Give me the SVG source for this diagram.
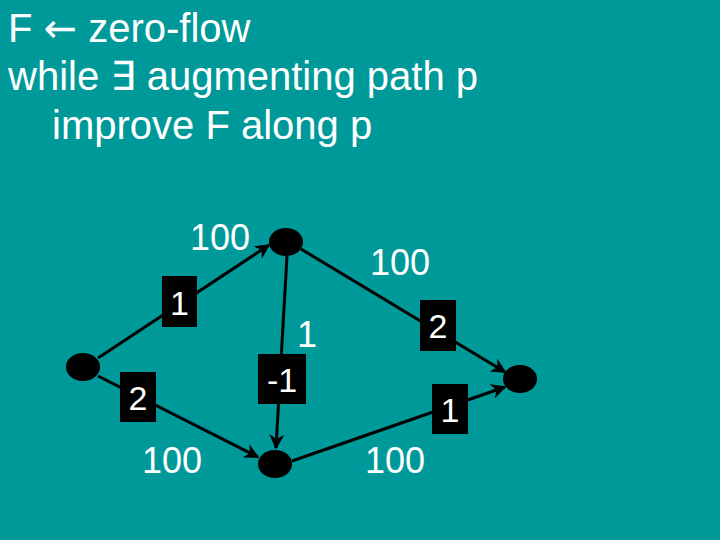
<svg xmlns="http://www.w3.org/2000/svg" width="720" height="540" viewBox="0 0 720 540">
<style>
.t{font-family:"Liberation Sans",Arial,sans-serif;font-size:36px;fill:#fff}
.h{font-family:"Liberation Sans",Arial,sans-serif;font-size:40px;fill:#fff}
.sym{font-family:"DejaVu Sans",sans-serif;font-weight:normal}
.bx{font-family:"Liberation Sans",Arial,sans-serif;font-size:34px;fill:#fff;text-anchor:middle}
.n{fill:#000}
.e{stroke:#000;stroke-width:3;fill:none}
.b{fill:#000}
</style>
<defs>
<marker id="ah" viewBox="0 0 10 10" refX="9" refY="5" markerWidth="5" markerHeight="5" orient="auto" markerUnits="strokeWidth">
<path d="M0,0 L10,5 L0,10 L3,5 z" fill="#000"/>
</marker>
</defs>
<rect width="720" height="540" fill="#009999"/>
<g id="title">
<text class="h" x="8" y="42">F <tspan class="sym">←</tspan> zero-flow</text>
<text class="h" x="8" y="90">while <tspan class="sym">∃</tspan> augmenting path p</text>
<text class="h" x="52" y="139">improve F along p</text>
</g>
<g id="connectors">
<line class="e" x1="98" y1="358" x2="269" y2="245" marker-end="url(#ah)"/>
<line class="e" x1="98" y1="376" x2="258" y2="457" marker-end="url(#ah)"/>
<line class="e" x1="287" y1="256" x2="276" y2="448" marker-end="url(#ah)"/>
<line class="e" x1="301" y1="249" x2="505" y2="372" marker-end="url(#ah)"/>
<line class="e" x1="292" y1="461" x2="505" y2="387" marker-end="url(#ah)"/>
</g>
<g id="node-s"><ellipse class="n" cx="83" cy="367" rx="17" ry="14"/></g>
<g id="node-a"><ellipse class="n" cx="286" cy="242" rx="17" ry="14"/></g>
<g id="node-b"><ellipse class="n" cx="275" cy="464" rx="17" ry="14"/></g>
<g id="node-t"><ellipse class="n" cx="520" cy="379" rx="17" ry="14"/></g>
<g id="labels">
<text class="t" x="190" y="250">100</text>
<text class="t" x="370" y="275">100</text>
<text class="t" x="142" y="473">100</text>
<text class="t" x="365" y="473">100</text>
<text class="t" x="297" y="347">1</text>
<rect class="b" x="162" y="276" width="35" height="51"/>
<text class="bx" x="179.5" y="315">1</text>
<rect class="b" x="120" y="372" width="36" height="50"/>
<text class="bx" x="138" y="410">2</text>
<rect class="b" x="258" y="354" width="48" height="50"/>
<text class="bx" x="282" y="392">-1</text>
<rect class="b" x="420" y="300" width="36" height="51"/>
<text class="bx" x="438" y="338">2</text>
<rect class="b" x="432" y="384" width="36" height="50"/>
<text class="bx" x="450" y="422">1</text>
</g>
</svg>
